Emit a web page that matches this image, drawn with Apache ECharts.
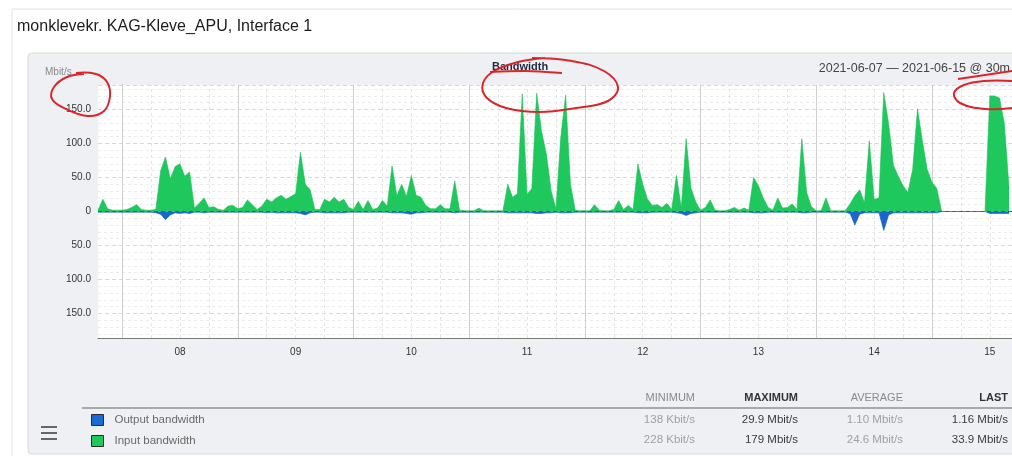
<!DOCTYPE html>
<html>
<head>
<meta charset="utf-8">
<script src="https://cdn.jsdelivr.net/npm/echarts@6.0.0/dist/echarts.min.js"></script>
<style>
html,body{margin:0;padding:0;background:#ffffff;}
#chart{width:1012px;height:456px;}
</style>
</head>
<body>
<div id="chart"></div>
<script>
// ---- data (hourly samples, first sample = 2021-06-07 19:00, hours relative to 2021-06-08 00:00) ----
const dayLabels = ['08', '09', '10', '11', '12', '13', '14', '15'];
const firstHour = -5;
const lastHour = 184.6;
const inputMbps = [
  2, 18, 4, 2, 2, 2, 3, 6, 10, 3,
  2, 2, 3, 60, 80, 48, 66, 70, 52, 58,
  5, 12, 20, 6, 7, 3, 2, 8, 9, 4,
  6, 17, 10, 3, 8, 18, 14, 20, 24, 18,
  22, 26, 87, 40, 32, 3, 3, 18, 14, 21,
  14, 18, 6, 3, 15, 3, 16, 3, 5, 16,
  8, 67, 23, 40, 22, 53, 24, 21, 9, 4,
  4, 10, 4, 4, 45, 2, 1, 1, 1, 5,
  1, 1, 1, 1, 1, 40, 21, 26, 173, 25,
  34, 174, 118, 85, 30, 4, 109, 171, 40, 2,
  1, 1, 1, 10, 2, 1, 1, 3, 16, 3,
  9, 3, 70, 40, 18, 9, 10, 6, 12, 3,
  53, 5, 107, 35, 14, 2, 6, 17, 2, 1,
  1, 3, 6, 2, 5, 2, 50, 38, 20, 6,
  2, 20, 5, 6, 11, 3, 107, 28, 7, 1,
  1, 20, 1, 1, 1, 1, 11, 23, 32, 13,
  104, 18, 20, 175, 129, 68, 52, 38, 28, 62,
  151, 104, 62, 43, 34, 0, 0, 0, 0, 0,
  0, 0, 0, 0, 0, 170, 170, 167, 130, 34
];
const outputMbps = [
  1, 1, 1, 1, 1, 1, 1, 1, 1, 1,
  1, 1, 2, 4, 12, 5, 2, 3, 2, 3,
  1, 1, 2, 1, 1, 1, 1, 1, 1, 1,
  1, 1, 1, 1, 1, 2, 1, 2, 2, 2,
  2, 2, 3, 5, 2, 1, 1, 2, 2, 2,
  2, 2, 1, 1, 1, 1, 1, 1, 1, 1,
  1, 2, 2, 2, 3, 4, 2, 2, 1, 1,
  1, 1, 1, 1, 2, 1, 1, 1, 1, 1,
  1, 1, 1, 1, 1, 2, 2, 2, 2, 2,
  2, 3, 3, 2, 2, 1, 2, 2, 2, 1,
  1, 1, 1, 1, 1, 1, 1, 1, 1, 1,
  1, 1, 2, 2, 2, 1, 1, 1, 1, 1,
  2, 3, 6, 3, 2, 1, 1, 1, 1, 1,
  1, 1, 1, 1, 1, 1, 2, 2, 2, 1,
  1, 1, 1, 1, 1, 1, 2, 2, 1, 1,
  1, 1, 1, 1, 1, 1, 3, 20, 4, 2,
  2, 2, 2, 28, 5, 2, 2, 2, 2, 2,
  2, 2, 2, 2, 2, 0, 0, 0, 0, 0,
  0, 0, 0, 0, 0, 3, 3, 3, 3, 3
];
const seriesNames = ['Output bandwidth', 'Input bandwidth'];
const statHeaders = ['MINIMUM', 'MAXIMUM', 'AVERAGE', 'LAST'];
const outputStats = ['138 Kbit/s', '29.9 Mbit/s', '1.10 Mbit/s', '1.16 Mbit/s'];
const inputStats = ['228 Kbit/s', '179 Mbit/s', '24.6 Mbit/s', '33.9 Mbit/s'];
const chartTitle = 'monklevekr. KAG-Kleve_APU, Interface 1';
const graphTitle = 'Bandwidth';
const rangeText = '2021-06-07 \u2014 2021-06-15 @ 30m';
const unitText = 'Mbit/s';

// ---- build series ----
const inputData = inputMbps.map((v, i) => [firstHour + i, v]);
const outputData = outputMbps.map((v, i) => [firstHour + i, -v]);

const dayLines = dayLabels.map((d, i) => ({ xAxis: 24 * i, lineStyle: { color: '#cfcfcf', width: 1, type: 'solid' } }));
const quarterLines = [];
for (let h = 6; h < lastHour; h += 6) {
  if (h % 24 !== 0) quarterLines.push({ xAxis: h, lineStyle: { color: '#e4e4e4', width: 1, type: [3, 3] } });
}

const FONT = '"Liberation Sans", Arial, sans-serif';
const colX = [695, 798, 903, 1008];
const statTexts = [];
statHeaders.forEach((t, i) => {
  const strong = (i === 1 || i === 3);
  statTexts.push({ type: 'text', z: 50, style: { text: t, x: colX[i], y: 398, align: 'right', verticalAlign: 'middle',
    fontSize: 11, fontWeight: strong ? 'bold' : 'normal', fontFamily: FONT, fill: strong ? '#333' : '#8a8a8a' } });
  statTexts.push({ type: 'text', z: 50, style: { text: outputStats[i], x: colX[i], y: 420, align: 'right', verticalAlign: 'middle',
    fontSize: 11.5, fontFamily: FONT, fill: strong ? '#3a3a3a' : '#a0a0a0' } });
  statTexts.push({ type: 'text', z: 50, style: { text: inputStats[i], x: colX[i], y: 440, align: 'right', verticalAlign: 'middle',
    fontSize: 11.5, fontFamily: FONT, fill: strong ? '#3a3a3a' : '#a0a0a0' } });
});

const red = { stroke: '#d9262b', lineWidth: 2, fill: null };
const annotations = [
  { type: 'polyline', z: 100, shape: { smooth: 0.4, points: [[76,73],[96,74],[107,82],[110,96],[104,111],[88,116],[66,109],[52,99],[54,87],[67,77],[84,74]] }, style: red },
  { type: 'polyline', z: 100, shape: { smooth: 0.3, points: [[490,72],[525,71],[562,73]] }, style: red },
  { type: 'polyline', z: 100, shape: { smooth: 0.4, points: [[532,58],[572,61],[604,71],[618,87],[608,101],[576,108],[540,112],[506,108],[486,97],[483,83],[494,71],[518,62],[545,58]] }, style: red },
  { type: 'polyline', z: 100, shape: { smooth: 0.3, points: [[958,79],[985,75],[1012,71]] }, style: red },
  { type: 'polyline', z: 100, shape: { smooth: 0.4, points: [[1012,81],[984,81],[964,85],[954,93],[960,103],[985,109],[1012,108]] }, style: red }
];

const chart = echarts.init(document.getElementById('chart'), null, { renderer: 'canvas' });
chart.setOption({
  animation: false,
  backgroundColor: '#ffffff',
  textStyle: { fontFamily: FONT },
  title: [
    { text: chartTitle, left: 17, top: 19, padding: 0, textStyle: { fontSize: 16, fontWeight: 'normal', color: '#1c1c1c', fontFamily: FONT } },
    { text: graphTitle, left: 492, top: 61, padding: 0, textStyle: { fontSize: 11, fontWeight: 'bold', color: '#1f2940', fontFamily: FONT } },
    { text: rangeText, right: 2, top: 62, padding: 0, textStyle: { fontSize: 12.5, fontWeight: 'normal', color: '#444', fontFamily: FONT } }
  ],
  grid: { left: 98, top: 85, right: 0, bottom: 118, show: true, backgroundColor: '#ffffff', borderWidth: 0 },
  legend: {
    data: seriesNames, orient: 'vertical', left: 91, top: 414, itemWidth: 12, itemHeight: 11, itemGap: 9,
    icon: 'rect', selectedMode: false, padding: 0,
    itemStyle: { borderColor: '#2b2b2b', borderWidth: 1 },
    textStyle: { fontSize: 11.5, color: '#6a6a6a', fontFamily: FONT, padding: [0, 0, 0, 6] }
  },
  xAxis: {
    type: 'value', min: firstHour, max: lastHour,
    axisLine: { show: true, onZero: false, lineStyle: { color: '#777', width: 1 } },
    axisTick: { show: false },
    splitLine: { show: false },
    axisLabel: {
      customValues: dayLabels.map((d, i) => 12 + 24 * i),
      formatter: v => dayLabels[Math.round((v - 12) / 24)],
      fontSize: 10, color: '#333', margin: 9, fontFamily: FONT
    }
  },
  yAxis: {
    type: 'value', min: -186, max: 186, splitNumber: 7,
    axisLine: { show: true, lineStyle: { color: '#777', width: 1 } },
    axisTick: { show: false },
    axisLabel: {
      showMinLabel: false, showMaxLabel: false, fontSize: 10, color: '#333', margin: 7, fontFamily: FONT,
      formatter: v => v === 0 ? '0' : Math.abs(v).toFixed(1)
    },
    splitLine: { show: true, lineStyle: { color: '#d8d8d8', type: [4, 3] } },
    minorTick: { show: false, splitNumber: 5 },
    minorSplitLine: { show: true, lineStyle: { color: '#ececec', type: [3, 3] } }
  },
  series: [
    {
      name: 'grid', type: 'line', data: [], z: 1, silent: true, showSymbol: false,
      markLine: { z: 1, silent: true, symbol: 'none', label: { show: false }, animation: false, data: dayLines.concat(quarterLines) }
    },
    {
      name: seriesNames[1], type: 'line', data: inputData, z: 3, showSymbol: false, symbol: 'none',
      itemStyle: { color: '#1fc85c' },
      lineStyle: { color: '#19c055', width: 0.6 },
      areaStyle: { color: '#1fc85c', opacity: 1 }
    },
    {
      name: seriesNames[0], type: 'line', data: outputData, z: 4, showSymbol: false, symbol: 'none',
      itemStyle: { color: '#1a6ad6' },
      lineStyle: { color: '#1560c0', width: 0.6 },
      areaStyle: { color: '#1a66cc', opacity: 1 },
      markLine: { z: 6, silent: true, symbol: 'none', label: { show: false }, animation: false,
        data: [{ yAxis: 0, lineStyle: { color: '#555', width: 1, type: [4, 3] } }] }
    }
  ],
  graphic: [
    { type: 'rect', z: -20, shape: { x: 12, y: 9, width: 1010, height: 460 }, style: { fill: '#ffffff', stroke: '#e2e2e2', lineWidth: 1 } },
    { type: 'rect', z: -10, shape: { x: 28, y: 53, width: 1000, height: 401, r: 4 }, style: { fill: '#eef0f3', stroke: '#d6d9dd', lineWidth: 1 } },
    { type: 'text', z: 50, style: { text: unitText, x: 45, y: 72, verticalAlign: 'middle', fontSize: 10, fontFamily: FONT, fill: '#8a8a8a' } },
    { type: 'line', z: 50, shape: { x1: 82, y1: 408, x2: 1012, y2: 408 }, style: { stroke: '#a9a9a9', lineWidth: 2 } },
    { type: 'line', z: 50, shape: { x1: 41, y1: 427, x2: 57, y2: 427 }, style: { stroke: '#666', lineWidth: 2 } },
    { type: 'line', z: 50, shape: { x1: 41, y1: 433, x2: 57, y2: 433 }, style: { stroke: '#666', lineWidth: 2 } },
    { type: 'line', z: 50, shape: { x1: 41, y1: 439, x2: 57, y2: 439 }, style: { stroke: '#666', lineWidth: 2 } }
  ].concat(statTexts).concat(annotations)
});
</script>
</body>
</html>
